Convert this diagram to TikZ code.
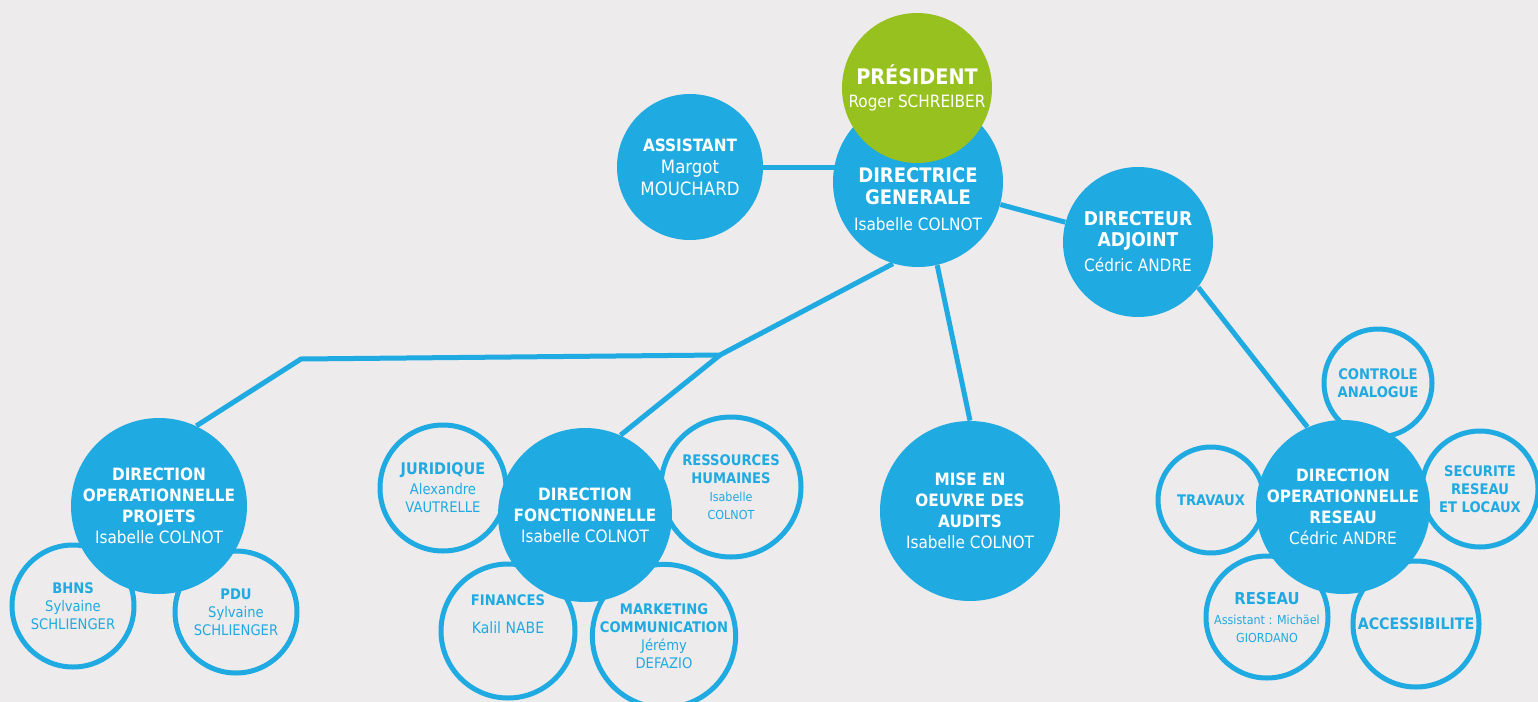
\documentclass[tikz,border=0pt]{standalone}
\usepackage{fontspec}
\setmainfont{DejaVu Sans Condensed}[BoldFont={DejaVu Sans Condensed Bold}]
\definecolor{ink}{RGB}{31,170,225}
\definecolor{leaf}{RGB}{150,193,31}
\definecolor{paper}{RGB}{237,235,236}
\newcommand{\sm}[1]{{\fontsize{6.2}{7.5}\selectfont #1}}
\newcommand{\bt}[2]{\textbf{\fontsize{#1}{#1}\selectfont #2}}
\pgfdeclarelayer{back}
\pgfsetlayers{back,main}

\begin{document}
\begin{tikzpicture}[x=0.5pt,y=-0.5pt,
    big/.style={shape=circle,fill=ink,text=white,inner sep=0pt,align=center,font=\fontsize{8.5}{10.5}\selectfont},
    ring/.style={shape=circle,draw=ink,line width=2.5pt,text=ink,inner sep=0pt,align=center,font=\fontsize{7.3}{9}\selectfont},
    note/.style={text=white,inner sep=0pt,align=center,font=\fontsize{8.5}{11}\selectfont},
    link/.style={draw=ink,line width=2.5pt}]

    \begin{pgfonlayer}{back}
    \fill[paper] (0,0) rectangle (1538,702);
    \end{pgfonlayer}
    \useasboundingbox (0,0) rectangle (1538,702);

    % rings
    \node[ring,minimum size=61pt] (bhns) at (73,606) {\textbf{BHNS}\\Sylvaine\\SCHLIENGER};
    \node[ring,minimum size=61pt] (pdu) at (236,612) {\textbf{PDU}\\Sylvaine\\SCHLIENGER};
    \node[ring,minimum size=63pt] (jurid) at (443,488) {\bt{8}{JURIDIQUE}\\[1pt]Alexandre\\VAUTRELLE};
    \node[ring,minimum size=70pt] (rh) at (731,487) {\textbf{RESSOURCES}\\\textbf{HUMAINES}\\\sm{Isabelle}\\\sm{COLNOT}};
    \node[ring,minimum size=67pt] (fin) at (508,631) {\textbf{FINANCES}\\[5pt]{\fontsize{7.8}{9}\selectfont Kalil NABE}\\[8pt]\mbox{}};
    \node[ring,minimum size=70pt] (mkt) at (664,636) {\textbf{MARKETING}\\\textbf{COMMUNICATION}\\Jérémy\\DEFAZIO};
    \node[ring,minimum size=54pt] (ctrl) at (1378,383) {\textbf{CONTROLE}\\\textbf{ANALOGUE}};
    \node[ring,minimum size=53pt] (trav) at (1211,500) {\textbf{TRAVAUX}};
    \node[ring,minimum size=58pt] (secu) at (1480,489) {\textbf{SECURITE}\\\textbf{RESEAU}\\\textbf{ET LOCAUX}};
    \node[ring,minimum size=61pt] (reseau) at (1267,617) {\bt{8.2}{RESEAU}\\[1pt]\sm{Assistant : Michäel}\\\sm{GIORDANO}};
    \node[ring,minimum size=63pt] (access) at (1416,624) {\bt{7.9}{ACCESSIBILITE}};

    % filled circles
    \node[big,minimum size=88pt] (dopp) at (159,506) {\textbf{DIRECTION}\\\textbf{OPERATIONNELLE}\\\textbf{PROJETS}\\Isabelle COLNOT};
    \node[big,minimum size=87pt] (dfonc) at (585,515) {\textbf{DIRECTION}\\\textbf{FONCTIONNELLE}\\Isabelle COLNOT};
    \node[big,minimum size=90pt] (mise) at (970,511) {\textbf{MISE EN}\\\textbf{OEUVRE DES}\\\textbf{AUDITS}\\Isabelle COLNOT};
    \node[big,minimum size=87pt] (dor) at (1343,507) {\textbf{DIRECTION}\\\textbf{OPERATIONNELLE}\\\textbf{RESEAU}\\Cédric ANDRE};
    \node[big,minimum size=75pt] (dadj) at (1138,242) {\bt{9.5}{DIRECTEUR}\\\bt{9.5}{ADJOINT}\\[2pt]Cédric ANDRE};
    \node[big,minimum size=73pt,font=\fontsize{9.2}{11}\selectfont] (assist) at (690,167) {\bt{8.5}{ASSISTANT}\\Margot\\MOUCHARD};
    \node[big,minimum size=85pt] (dg) at (918,182) {};
    \node[note] (dgtext) at ([yshift=-8.5pt]dg.center) {\bt{10}{DIRECTRICE}\\\bt{10}{GENERALE}\\[2pt]Isabelle COLNOT};
    \node[big,fill=leaf,minimum size=75pt] (presid) at (917,88) {\bt{10.7}{PRÉSIDENT}\\[1pt]Roger SCHREIBER};

    \begin{pgfonlayer}{back}
    \coordinate (split) at (720,355);
    \coordinate (elbow) at (301,359);
    \path [link] (assist) edge (assist -| dg);
    \path [link] (dg) edge (dadj);
    \path [link] (dadj.-37) edge (dor.114);
    \path [link] (dg.-77) edge (mise.north);
    \draw [link] (dg.-107) -- (split) -- (elbow) -- (dopp.65);
    \draw [link] (split) -- (dfonc.66);
    \end{pgfonlayer}

\end{tikzpicture}
\end{document}
